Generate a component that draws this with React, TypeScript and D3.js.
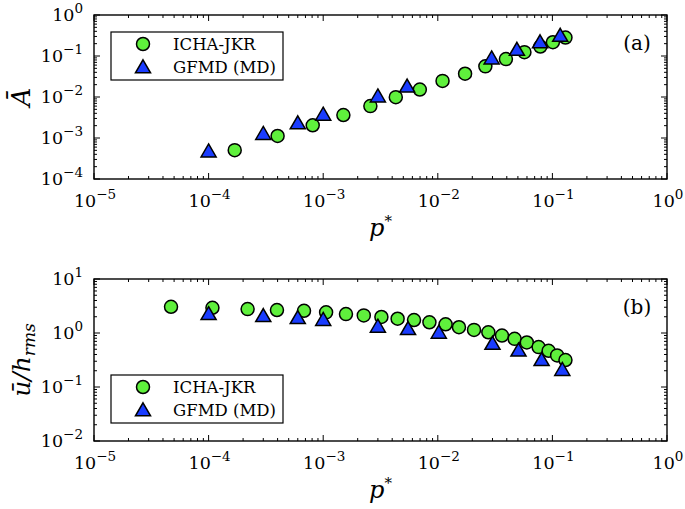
import React from "react";
import * as d3 from "d3";

const W = 685;
const H = 509;

// Panel (a): mean contact area vs p*
const aIchaP = [1.69e-4, 4.0e-4, 8.1e-4, 1.5e-3, 2.58e-3, 4.3e-3, 6.97e-3, 1.1e-2, 1.73e-2, 2.6e-2, 3.93e-2, 5.7e-2, 7.85e-2, 0.101, 0.13];
const aIchaA = [5.05e-4, 1.12e-3, 2.04e-3, 3.63e-3, 6.0e-3, 9.9e-3, 1.52e-2, 2.47e-2, 3.7e-2, 5.6e-2, 8.4e-2, 0.124, 0.17, 0.217, 0.282];
const aGfmdP = [1.0e-4, 3.0e-4, 6.0e-4, 1.0e-3, 3.0e-3, 5.4e-3, 2.95e-2, 4.9e-2, 7.8e-2, 0.117];
const aGfmdA = [4.8e-4, 1.28e-3, 2.32e-3, 3.77e-3, 1.05e-2, 1.83e-2, 8.9e-2, 0.144, 0.22, 0.316];

// Panel (b): mean separation vs p*
const bIchaP = [4.7e-5, 1.08e-4, 2.19e-4, 3.95e-4, 6.8e-4, 1.06e-3, 1.58e-3, 2.26e-3, 3.22e-3, 4.46e-3, 6.2e-3, 8.45e-3, 1.17e-2, 1.53e-2, 2.07e-2, 2.76e-2, 3.63e-2, 4.68e-2, 5.98e-2, 7.58e-2, 9.27e-2, 0.11, 0.13];
const bIchaU = [3.06, 2.93, 2.77, 2.66, 2.58, 2.41, 2.24, 2.12, 1.98, 1.84, 1.74, 1.58, 1.45, 1.28, 1.14, 1.03, 0.897, 0.78, 0.667, 0.548, 0.469, 0.385, 0.316];
const bGfmdP = [1.0e-4, 3.0e-4, 6.0e-4, 1.0e-3, 3.0e-3, 5.5e-3, 1.02e-2, 3.0e-2, 5.06e-2, 8.05e-2, 0.122];
const bGfmdU = [2.27, 2.09, 1.92, 1.77, 1.33, 1.2, 1.03, 0.64, 0.48, 0.32, 0.21];

const xExps = [-5, -4, -3, -2, -1, 0];
const aYExps = [-4, -3, -2, -1, 0];
const bYExps = [-2, -1, 0, 1];
const seriesNames = ["ICHA-JKR", "GFMD (MD)"];

const GREEN = "#5ff03c";
const BLUE = "#1a3cff";
const FONT = "'DejaVu Serif', 'Liberation Serif', serif";

const X0 = 94;
const X1 = 667;

function minorVals(lo: number, hi: number) {
  const out: number[] = [];
  for (let e = lo; e < hi; e++) {
    for (let m = 2; m <= 9; m++) out.push(m * Math.pow(10, e));
  }
  return out;
}

function tri(cx: number, cy: number, s: number) {
  const h = s;
  return `M${cx},${cy - h * 0.55} L${cx + s * 0.58},${cy + h * 0.45} L${cx - s * 0.58},${cy + h * 0.45} Z`;
}

function Pow({ x, y, e, anchor }: { x: number; y: number; e: number; anchor: string }) {
  const s = e < 0 ? "\u2212" + Math.abs(e) : String(e);
  return (
    <text x={x} y={y} fontFamily={FONT} fontSize={17.5} textAnchor={anchor} fill="#000">
      <tspan>10</tspan>
      <tspan dy={-8} fontSize={13.5}>{s}</tspan>
    </text>
  );
}

function Panel({
  top, bottom, yDomainExp, yExps, circP, circV, triP, triV, tag, legendTop,
}: {
  top: number; bottom: number; yDomainExp: [number, number]; yExps: number[];
  circP: number[]; circV: number[]; triP: number[]; triV: number[]; tag: string; legendTop: number;
}) {
  const x = d3.scaleLog().domain([1e-5, 1]).range([X0, X1]);
  const y = d3.scaleLog().domain([Math.pow(10, yDomainExp[0]), Math.pow(10, yDomainExp[1])]).range([bottom, top]);
  const xMajor = xExps.map((e) => Math.pow(10, e));
  const xMinor = minorVals(-5, 0);
  const yMajor = yExps.map((e) => Math.pow(10, e));
  const yMinor = minorVals(yDomainExp[0], yDomainExp[1]);
  const MJ = 6;
  const MN = 3;
  return (
    <g>
      {xMajor.map((v, i) => (
        <g key={"xM" + i} stroke="#000" strokeWidth={1}>
          <line x1={x(v)} x2={x(v)} y1={bottom} y2={bottom - MJ} />
          <line x1={x(v)} x2={x(v)} y1={top} y2={top + MJ} />
        </g>
      ))}
      {xMinor.map((v, i) => (
        <g key={"xm" + i} stroke="#000" strokeWidth={1}>
          <line x1={x(v)} x2={x(v)} y1={bottom} y2={bottom - MN} />
          <line x1={x(v)} x2={x(v)} y1={top} y2={top + MN} />
        </g>
      ))}
      {yMajor.map((v, i) => (
        <g key={"yM" + i} stroke="#000" strokeWidth={1}>
          <line x1={X0} x2={X0 + MJ} y1={y(v)} y2={y(v)} />
          <line x1={X1} x2={X1 - MJ} y1={y(v)} y2={y(v)} />
        </g>
      ))}
      {yMinor.map((v, i) => (
        <g key={"ym" + i} stroke="#000" strokeWidth={1}>
          <line x1={X0} x2={X0 + MN} y1={y(v)} y2={y(v)} />
          <line x1={X1} x2={X1 - MN} y1={y(v)} y2={y(v)} />
        </g>
      ))}
      <rect x={X0} y={top} width={X1 - X0} height={bottom - top} fill="none" stroke="#000" strokeWidth={1.4} />
      {xExps.map((e) => (
        <Pow key={"xl" + e} x={x(Math.pow(10, e)) + 1} y={bottom + 28} e={e} anchor="middle" />
      ))}
      {yExps.map((e) => (
        <Pow key={"yl" + e} x={83} y={y(Math.pow(10, e)) + 6} e={e} anchor="end" />
      ))}
      {circP.map((p, i) => (
        <circle key={"c" + i} cx={x(p)} cy={y(circV[i])} r={6.5} fill={GREEN} stroke="#000" strokeWidth={1.5} />
      ))}
      {triP.map((p, i) => (
        <path key={"t" + i} d={tri(x(p), y(triV[i]), 13)} fill={BLUE} stroke="#000" strokeWidth={1.5} />
      ))}
      <rect x={111} y={legendTop} width={172} height={48} fill="#fff" stroke="#000" strokeWidth={1.2} />
      <circle cx={143} cy={legendTop + 12} r={6.5} fill={GREEN} stroke="#000" strokeWidth={1.5} />
      <path d={tri(143, legendTop + 35, 13)} fill={BLUE} stroke="#000" strokeWidth={1.5} />
      <text x={173} y={legendTop + 18} fontFamily={FONT} fontSize={16.5} fill="#000">{seriesNames[0]}</text>
      <text x={173} y={legendTop + 41} fontFamily={FONT} fontSize={16.5} fill="#000">{seriesNames[1]}</text>
      <text x={637} y={top + 35} fontFamily={FONT} fontSize={20} textAnchor="middle" fill="#000">{tag}</text>
      <text x={(X0 + X1) / 2} y={bottom + 57} fontFamily={FONT} fontSize={24} fontStyle="italic" textAnchor="middle" fill="#000">
        <tspan>p</tspan>
        <tspan dy={-10} fontSize={15} fontStyle="normal">*</tspan>
      </text>
    </g>
  );
}

export default function App() {
  const aTop = 15, aBottom = 179;
  const bTop = 279, bBottom = 441;
  return (
    <div style={{ position: "absolute", left: 0, top: 0 }}>
      <svg width={W} height={H} viewBox={`0 0 ${W} ${H}`} style={{ display: "block", background: "#fff" }}>
        <rect width={W} height={H} fill="#fff" />
        <Panel top={aTop} bottom={aBottom} yDomainExp={[-4, 0]} yExps={aYExps}
          circP={aIchaP} circV={aIchaA} triP={aGfmdP} triV={aGfmdA} tag="(a)" legendTop={32} />
        <Panel top={bTop} bottom={bBottom} yDomainExp={[-2, 1]} yExps={bYExps}
          circP={bIchaP} circV={bIchaU} triP={bGfmdP} triV={bGfmdU} tag="(b)" legendTop={375} />
        <text transform={`translate(30,${(aTop + aBottom) / 2}) rotate(-90)`} fontFamily={FONT} fontSize={26}
          fontStyle="italic" textAnchor="middle" fill="#000">{"\u0100"}</text>
        <text transform={`translate(30,${(bTop + bBottom) / 2}) rotate(-90)`} fontFamily={FONT} fontSize={25}
          fontStyle="italic" textAnchor="middle" fill="#000">
          <tspan>{"\u016B/h"}</tspan>
          <tspan dy={5} fontSize={17}>rms</tspan>
        </text>
      </svg>
    </div>
  );
}
